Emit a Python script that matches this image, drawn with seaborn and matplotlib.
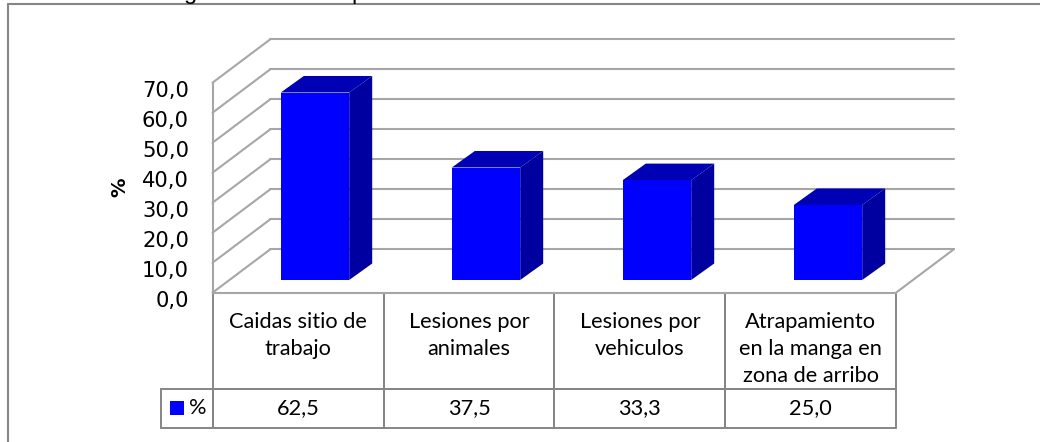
import matplotlib
matplotlib.use('Agg')

import pandas as pd
import seaborn as sns
import matplotlib.pyplot as plt
from matplotlib.lines import Line2D
from matplotlib.patches import Rectangle
from matplotlib.transforms import ScaledTranslation

categories = ['Caidas sitio de\ntrabajo\n ', 'Lesiones por\nanimales\n ',
              'Lesiones por\nvehiculos\n ', 'Atrapamiento\nen la manga en\nzona de arribo']
values = [62.5, 37.5, 33.3, 25.0]
value_labels = ['62,5', '37,5', '33,3', '25,0']
y_ticks = [0, 10, 20, 30, 40, 50, 60, 70]
y_tick_labels = ['0,0', '10,0', '20,0', '30,0', '40,0', '50,0', '60,0', '70,0']

W, H = 1040, 442
BLUE = '#0000ff'
SIDE = '#0000a0'
TOP = '#0000b4'
GRID = '#a6a6a6'
EDGE = '#868686'


def fig_box(x0, y0, x1, y1):
    # caja en pixeles de la imagen -> coordenadas de figura
    return [x0 / W, 1 - y1 / H, (x1 - x0) / W, (y1 - y0) / H]


sns.set_theme(style='white')
plt.rcParams['font.family'] = 'DejaVu Sans'
fig = plt.figure(figsize=(W / 100, H / 100), dpi=100, facecolor='white')

# plano frontal: ejes, ticks y tabla
ax_wall = fig.add_axes(fig_box(212.5, 82.7, 896, 292.7))
ax_wall.set_xlim(-0.5, 3.5)
ax_wall.set_ylim(0, 70)
ax_wall.patch.set_alpha(0)
sns.despine(ax=ax_wall, top=True, right=True)
for s in ['left', 'bottom']:
    ax_wall.spines[s].set_color(GRID)
    ax_wall.spines[s].set_linewidth(1.5)
ax_wall.set_xticks([])
ax_wall.set_yticks(y_ticks)
ax_wall.set_yticklabels(y_tick_labels, fontsize=15.2, color='black')
ax_wall.tick_params(axis='y', length=0, pad=17)
for t in ax_wall.get_yticklabels():
    t.set_transform(t.get_transform() + ScaledTranslation(0, -4.5 / 72, fig.dpi_scale_trans))
ax_wall.set_ylabel('%', fontsize=14, fontweight='bold', color='black')
ax_wall.yaxis.set_label_coords(-0.122, 0.5)

# profundidad de la pared (58 px, 43.5 px) en unidades de datos
depth_x = 58 / 171
depth_y = 43.5 / 3
for v in y_ticks:
    ax_wall.plot([-0.5, -0.5 + depth_x], [v, v + depth_y], color=GRID, lw=1.5, clip_on=False)
    ax_wall.plot([-0.5 + depth_x, 3.5 + depth_x], [v + depth_y, v + depth_y], color=GRID, lw=1.5, clip_on=False)
ax_wall.plot([3.5, 3.5 + depth_x], [0, depth_y], color=GRID, lw=1.5, clip_on=False)

# barras: mismo plano desplazado hacia el fondo
ax = fig.add_axes(fig_box(229.5, 70, 913.5, 280))
df = pd.DataFrame({'cat': categories, 'val': values})
sns.barplot(data=df, x='cat', y='val', color=BLUE, saturation=1, width=0.4, linewidth=0, ax=ax, zorder=3)
ax.set_xlim(-0.5, 3.5)
ax.set_ylim(0, 70)
ax.axis('off')

bar_dx = 23 / 171
bar_dy = 16.5 / 3
for bar in ax.patches:
    x0, x1 = bar.get_x(), bar.get_x() + bar.get_width()
    h = bar.get_height()
    ax.fill([x1, x1 + bar_dx, x1 + bar_dx, x1], [0, bar_dy, h + bar_dy, h], color=SIDE, lw=0, zorder=3, clip_on=False)
    ax.fill([x0, x0 + bar_dx, x1 + bar_dx, x1], [h, h + bar_dy, h + bar_dy, h], color=TOP, lw=0, zorder=3, clip_on=False)

# tabla de datos
col_widths = [52 / 735] + [171 / 735] * 4
tbl = ax_wall.table(cellText=[[''] + categories, ['%'] + value_labels],
                    cellLoc='center', colWidths=col_widths,
                    bbox=[(161 - 212.5) / 683.5, -135 / 210, 735 / 683.5, 135 / 210])
tbl.auto_set_font_size(False)
tbl.set_fontsize(15.7)
for (r, c), cell in tbl.get_celld().items():
    cell.set_height(96.5 if r == 0 else 38.5)
    cell.set_edgecolor(EDGE)
    cell.set_linewidth(1.4)
    cell.set_facecolor('none')
    cell.get_text().set_fontfamily('Lato')
    cell.get_text().set_color('black')
    if r == 0:
        cell.get_text().set_linespacing(1.45)
        cell.get_text().set_transform(ScaledTranslation(0, -6 / 72, fig.dpi_scale_trans))
tbl[(0, 0)].visible_edges = ''
tbl[(1, 0)].get_text().set_horizontalalignment('right')
tbl[(1, 0)].PAD = 0.12

fig.add_artist(Rectangle((170 / W, 1 - 415 / H), 14 / W, 14 / H, transform=fig.transFigure,
                         facecolor=BLUE, edgecolor='none'))

# marco del grafico (solo arriba e izquierda dentro del recorte)
fig.add_artist(Line2D([7.5 / W, 7.5 / W], [0, 1 - 4 / H], color=EDGE, lw=1.5))
fig.add_artist(Line2D([7.5 / W, 1], [1 - 4 / H, 1 - 4 / H], color=EDGE, lw=1.5))

# restos del titulo cortado arriba de la imagen
fig.text(184 / W, 1 + 1 / H, 'g', fontsize=17, family='Liberation Sans', va='baseline', color='black')
fig.text(351 / W, 1 + 1 / H, 'p', fontsize=17, family='Liberation Sans', va='baseline', color='black')

plt.savefig('out.png', dpi=100)
